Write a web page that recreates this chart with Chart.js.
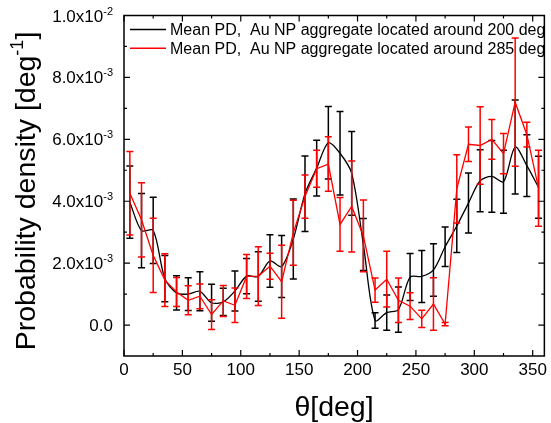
<!DOCTYPE html>
<html>
<head>
<meta charset="utf-8">
<script src="https://cdn.jsdelivr.net/npm/chart.js@4.4.0/dist/chart.umd.min.js"></script>
<style>
  html, body { margin: 0; padding: 0; background: #fff; }
</style>
</head>
<body>
<canvas id="ch" width="551" height="423"></canvas>
<script>
// bin centres [deg]
const theta = [5, 15, 25, 35, 45, 55, 65, 75, 85, 95, 105, 115, 125, 135, 145, 155, 165, 175,
               185, 195, 205, 215, 225, 235, 245, 255, 265, 275, 285, 295, 305, 315, 325, 335, 345, 355];

// mean probability density, in units of 1e-3 deg^-1
const pd200 = [3.97, 3.05, 3.06, 1.50, 1.04, 1.00, 1.09, 0.72, 0.75, 1.10, 1.58, 1.57, 2.07, 1.89, 2.78, 4.24, 5.07, 5.89,
               5.55, 4.90, 2.60, 0.15, 0.40, 0.50, 1.55, 1.57, 1.78, 2.53, 3.20, 3.94, 4.66, 4.80, 4.63, 5.75, 5.15, 4.45];
const err200 = [1.17, 1.20, 1.07, 0.75, 0.55, 0.53, 0.63, 0.60, 0.44, 0.65, 0.57, 0.80, 0.85, 1.00, 1.29, 1.22, 0.90, 1.17,
                1.35, 1.35, 0.84, 0.25, 0.57, 0.73, 0.76, 0.84, 0.85, 0.64, 0.86, 0.97, 1.00, 1.16, 1.02, 1.52, 1.00, 1.00];

const pd285 = [4.26, 3.40, 2.25, 1.45, 1.07, 0.80, 0.93, 0.34, 0.78, 0.64, 1.57, 1.58, 1.90, 1.40, 2.98, 4.15, 5.05, 5.20,
               3.25, 3.83, 2.88, 1.13, 1.48, 0.80, 0.61, 0.20, 0.68, 0.03, 4.40, 5.84, 5.80, 6.00, 5.54, 7.20, 6.15, 4.42];
const err285 = [1.35, 1.20, 1.20, 0.85, 0.47, 0.47, 0.40, 0.48, 0.50, 0.56, 0.71, 0.95, 0.42, 1.18, 1.05, 0.70, 0.60, 0.88,
                0.87, 1.47, 1.16, 0.39, 0.90, 0.72, 0.43, 0.28, 0.85, 0.05, 1.10, 0.56, 1.25, 0.64, 0.65, 2.07, 0.40, 1.23];

const UNIT = 1e-3;

const seriesLabels = ['Mean PD,  Au NP aggregate located around 200 deg',
                      'Mean PD,  Au NP aggregate located around 285 deg'];

const xMajor = [0, 50, 100, 150, 200, 250, 300, 350];
const xMinor = [25, 75, 125, 175, 225, 275, 325];
const yMajor = [0, 0.002, 0.004, 0.006, 0.008, 0.01];
const yMinor = [0.001, 0.003, 0.005, 0.007, 0.009];
const yTickMain = ['0.0', '2.0x10', '4.0x10', '6.0x10', '8.0x10', '1.0x10'];
const yTickSup = ['', '-3', '-3', '-3', '-3', '-2'];

const FONT = '"Liberation Sans", Arial, sans-serif';

let toPoints = (vals) => theta.map((t, i) => ({ x: t, y: vals[i] * UNIT }));

// text pieces are [text, size, rise], drawn one after another
let piecesWidth = (ctx, pieces) => pieces.reduce((w, p) => {
    ctx.font = p[1] + 'px ' + FONT;
    return w + ctx.measureText(p[0]).width;
}, 0);
let drawPieces = (ctx, pieces, x, y) => {
    pieces.forEach(p => {
        ctx.font = p[1] + 'px ' + FONT;
        ctx.fillText(p[0], x, y - p[2]);
        x += ctx.measureText(p[0]).width;
    });
};

const originFrame = {
    id: 'originFrame',
    beforeDatasetDraw(chart, args) {
        // error bars under each line
        const ctx = chart.ctx, xs = chart.scales.x, ys = chart.scales.y;
        const ds = chart.data.datasets[args.index];
        ctx.save();
        ctx.strokeStyle = ds.borderColor;
        ctx.lineWidth = 1.5;
        ds.data.forEach((p, i) => {
            const e = ds.err[i] * UNIT;
            const px = xs.getPixelForValue(p.x);
            const top = ys.getPixelForValue(p.y + e);
            const bot = ys.getPixelForValue(p.y - e);
            ctx.beginPath();
            ctx.moveTo(px, top); ctx.lineTo(px, bot);
            ctx.moveTo(px - 3.5, top); ctx.lineTo(px + 3.5, top);
            ctx.moveTo(px - 3.5, bot); ctx.lineTo(px + 3.5, bot);
            ctx.stroke();
        });
        ctx.restore();
    },
    afterDraw(chart) {
        const ctx = chart.ctx, a = chart.chartArea, xs = chart.scales.x, ys = chart.scales.y;
        ctx.save();
        ctx.strokeStyle = '#000';
        ctx.fillStyle = '#000';

        // frame
        ctx.lineWidth = 1.5;
        ctx.strokeRect(a.left, a.top, a.right - a.left, a.bottom - a.top);

        // inward ticks on all four sides
        ctx.lineWidth = 1.2;
        ctx.beginPath();
        let xt = (v, len) => {
            const px = xs.getPixelForValue(v);
            ctx.moveTo(px, a.bottom); ctx.lineTo(px, a.bottom - len);
            ctx.moveTo(px, a.top); ctx.lineTo(px, a.top + len);
        };
        let yt = (v, len) => {
            const py = ys.getPixelForValue(v);
            ctx.moveTo(a.left, py); ctx.lineTo(a.left + len, py);
            ctx.moveTo(a.right, py); ctx.lineTo(a.right - len, py);
        };
        xMajor.forEach(v => xt(v, 6));
        xMinor.forEach(v => xt(v, 3));
        yMajor.forEach(v => yt(v, 6));
        yMinor.forEach(v => yt(v, 3));
        ctx.stroke();

        // y tick labels with superscript exponents
        ctx.textAlign = 'left';
        ctx.textBaseline = 'alphabetic';
        yMajor.forEach((v, i) => {
            const py = ys.getPixelForValue(v);
            const pieces = [[yTickMain[i], 17, 0], [yTickSup[i], 11, 7]];
            const w = piecesWidth(ctx, pieces);
            drawPieces(ctx, pieces, 113 - w, py + 6);
        });

        // y title
        ctx.save();
        ctx.translate(35, 191);
        ctx.rotate(-Math.PI / 2);
        const yTitle = [['Probability density [deg', 28.5, 0], ['-1', 18, 12], [']', 28.5, 0]];
        drawPieces(ctx, yTitle, -piecesWidth(ctx, yTitle) / 2, 0);
        ctx.restore();

        // x title
        const xTitle = [['\u03B8[deg]', 28.5, 0]];
        drawPieces(ctx, xTitle, 334 - piecesWidth(ctx, xTitle) / 2, 416);

        // legend inside the frame
        chart.data.datasets.forEach((ds, i) => {
            const ly = [29.5, 48.3][i];
            ctx.strokeStyle = ds.borderColor;
            ctx.lineWidth = 1.5;
            ctx.beginPath();
            ctx.moveTo(130, ly); ctx.lineTo(166, ly);
            ctx.stroke();
            ctx.font = '16px ' + FONT;
            ctx.fillText(ds.label, 170, ly + 5.8);
        });
        ctx.restore();
    }
};

new Chart('ch', {
    type: 'line',
    data: {
        datasets: [{
            label: seriesLabels[0],
            data: toPoints(pd200),
            err: err200,
            borderColor: '#000000',
            borderWidth: 1.3,
            tension: 0.3,
            pointRadius: 0,
            order: 1
        }, {
            label: seriesLabels[1],
            data: toPoints(pd285),
            err: err285,
            borderColor: '#ff0000',
            borderWidth: 1.3,
            tension: 0,
            pointRadius: 0,
            order: 0
        }]
    },
    options: {
        responsive: false,
        animation: false,
        devicePixelRatio: 1,
        layout: { padding: { top: 15.5, right: 4.5, left: 0, bottom: 0 } },
        plugins: { legend: { display: false }, tooltip: { enabled: false } },
        scales: {
            x: {
                type: 'linear',
                min: 0,
                max: 360,
                afterBuildTicks: s => { s.ticks = xMajor.map(v => ({ value: v })); },
                afterFit: s => { s.height = 67; },
                grid: { display: false, drawTicks: false },
                border: { display: false },
                ticks: {
                    font: { family: FONT, size: 17 },
                    color: '#000',
                    padding: 4,
                    maxRotation: 0,
                    autoSkip: false
                }
            },
            y: {
                type: 'linear',
                min: -0.001,
                max: 0.01,
                afterBuildTicks: s => { s.ticks = yMajor.map(v => ({ value: v })); },
                afterFit: s => { s.width = 124; },
                grid: { display: false, drawTicks: false },
                border: { display: false },
                ticks: { display: false }
            }
        }
    },
    plugins: [originFrame]
});
</script>
</body>
</html>
